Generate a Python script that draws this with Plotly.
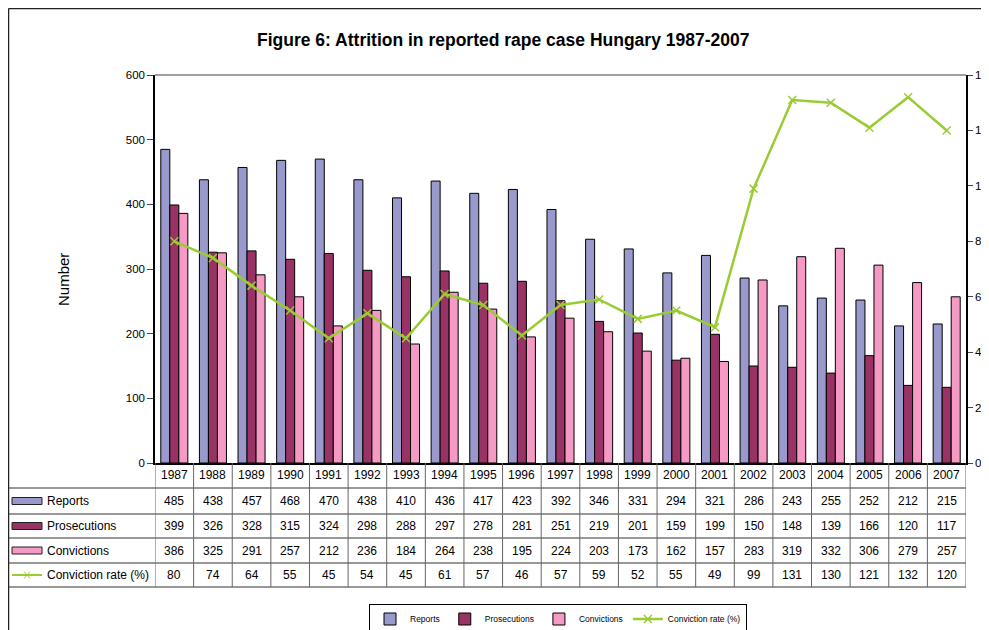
import plotly.graph_objects as go

years = [str(y) for y in range(1987, 2008)]
reports = [485, 438, 457, 468, 470, 438, 410, 436, 417, 423, 392, 346, 331, 294, 321, 286, 243, 255, 252, 212, 215]
prosecutions = [399, 326, 328, 315, 324, 298, 288, 297, 278, 281, 251, 219, 201, 159, 199, 150, 148, 139, 166, 120, 117]
convictions = [386, 325, 291, 257, 212, 236, 184, 264, 238, 195, 224, 203, 173, 162, 157, 283, 319, 332, 306, 279, 257]
conv_rate = [80, 74, 64, 55, 45, 54, 45, 61, 57, 46, 57, 59, 52, 55, 49, 99, 131, 130, 121, 132, 120]

series_names = ['Reports', 'Prosecutions', 'Convictions', 'Conviction rate (%)']
colors = ['#9999CC', '#993366', '#F49AC4', '#99CC33']

# page has an 8px body margin, so the figure is a bit smaller than the window
OFF = 8
W, H = 989 - OFF, 630 - OFF
L, R, T, B = 155 - OFF, 23, 75 - OFF, 167
pw, ph = W - L - R, H - T - B

def px(x):  # page pixel -> paper
    return (x - OFF - L) / pw

def py(y):
    return (H - B - (y - OFF)) / ph

fig = go.Figure()
for name, vals, col in zip(series_names[:3], [reports, prosecutions, convictions], colors[:3]):
    fig.add_trace(go.Bar(x=years, y=vals, name=name, marker_color=col,
                         marker_line_color='black', marker_line_width=1))
fig.add_trace(go.Scatter(x=years, y=conv_rate, name=series_names[3], yaxis='y2',
                         mode='lines+markers', line=dict(color=colors[3], width=2.5),
                         marker=dict(symbol='x-thin', size=8, line=dict(color=colors[3], width=1.5))))

shapes = []
annos = []
line_col = '#333333'

def txt(x, y, text, xref='paper', **kw):
    d = dict(x=x, y=y, xref=xref, yref='paper', text=text, showarrow=False,
             xanchor='center', yanchor='middle', font=dict(size=12, color='black'))
    d.update(kw)
    annos.append(d)

# table rows (page pixel y boundaries)
rows = [463, 488, 514, 538, 563, 587]
for yb in rows[1:]:
    shapes.append(dict(type='line', xref='paper', yref='paper', x0=px(8), x1=px(966), y0=py(yb), y1=py(yb),
                       line=dict(color=line_col, width=1)))
shapes.append(dict(type='line', xref='paper', yref='paper', x0=px(8), x1=px(8), y0=py(488), y1=py(587),
                   line=dict(color=line_col, width=1)))
for i in range(len(years) + 1):
    shapes.append(dict(type='line', xref='x', yref='paper', x0=i - 0.5, x1=i - 0.5, y0=0, y1=py(587),
                       line=dict(color='#666666', width=1)))

# top border of plot area
shapes.append(dict(type='line', xref='paper', yref='paper', x0=0, x1=1, y0=1, y1=1,
                   line=dict(color='#808080', width=1.5)))
# outer chart border (left and top edges)
shapes.append(dict(type='line', xref='paper', yref='paper', x0=px(8.5), x1=px(8.5), y0=py(8.5), y1=py(640),
                   line=dict(color='#222222', width=1.5)))
shapes.append(dict(type='line', xref='paper', yref='paper', x0=px(8.5), x1=px(1000), y0=py(8.5), y1=py(8.5),
                   line=dict(color='#222222', width=1.5)))

# header years
for i, yr in enumerate(years):
    txt(i, (py(463) + py(488)) / 2, yr, xref='x')

table_vals = [reports, prosecutions, convictions, conv_rate]
for r, (name, vals, col) in enumerate(zip(series_names, table_vals, colors)):
    yc = (py(rows[r + 1]) + py(rows[r + 2])) / 2
    for i, v in enumerate(vals):
        txt(i, yc, str(v), xref='x')
    txt(px(45), yc, name, xanchor='left')
    if r < 3:
        shapes.append(dict(type='rect', xref='paper', yref='paper', x0=px(12), x1=px(42),
                           y0=yc - 3.5 / ph, y1=yc + 3.5 / ph, fillcolor=col,
                           line=dict(color='#222222', width=1)))
    else:
        shapes.append(dict(type='line', xref='paper', yref='paper', x0=px(12), x1=px(42), y0=yc, y1=yc,
                           line=dict(color=col, width=2)))
        for s in (-1, 1):
            shapes.append(dict(type='line', xref='paper', yref='paper', x0=px(24), x1=px(30),
                               y0=yc - s * 3.5 / ph, y1=yc + s * 3.5 / ph, line=dict(color=col, width=1)))

txt(px(503), py(40), '<b>Figure 6: Attrition in reported rape case Hungary 1987-2007</b>',
    font=dict(size=17.5, color='black'))
txt(px(63), py(280), 'Number', textangle=-90, font=dict(size=15, color='black'))
txt(px(990), py(283), '%', textangle=-90, font=dict(size=13, color='black'))

fig.update_layout(
    width=W, height=H,
    margin=dict(l=L, r=R, t=T, b=B, autoexpand=False),
    paper_bgcolor='white', plot_bgcolor='white',
    font=dict(family='Liberation Sans, Arial, sans-serif', size=12, color='black'),
    barmode='group', bargap=0.3, bargroupgap=0,
    xaxis=dict(type='category', showticklabels=False, ticks='', showline=True, linecolor='black',
               linewidth=1.5, showgrid=False, zeroline=False, automargin=False,
               range=[-0.5, len(years) - 0.5]),
    yaxis=dict(range=[0, 600], dtick=100, ticks='outside', ticklen=6, showline=True, linecolor='black',
               linewidth=1.5, showgrid=False, zeroline=False, tickfont=dict(size=11.5), automargin=False),
    yaxis2=dict(range=[0, 140], dtick=20, overlaying='y', side='right', ticks='outside', ticklen=5,
                showline=True, linecolor='black', linewidth=1.5, showgrid=False, zeroline=False,
                tickfont=dict(size=11.5), automargin=False),
    legend=dict(orientation='h', xref='container', yref='container',
                x=(558 - OFF) / W, y=(H - (619 - OFF)) / H, xanchor='center', yanchor='middle',
                bordercolor='black', borderwidth=1, font=dict(size=8.5), itemwidth=30, tracegroupgap=0,
                entrywidthmode='pixels'),
    shapes=shapes, annotations=annos, showlegend=True,
)

fig.write_html('out.html')
